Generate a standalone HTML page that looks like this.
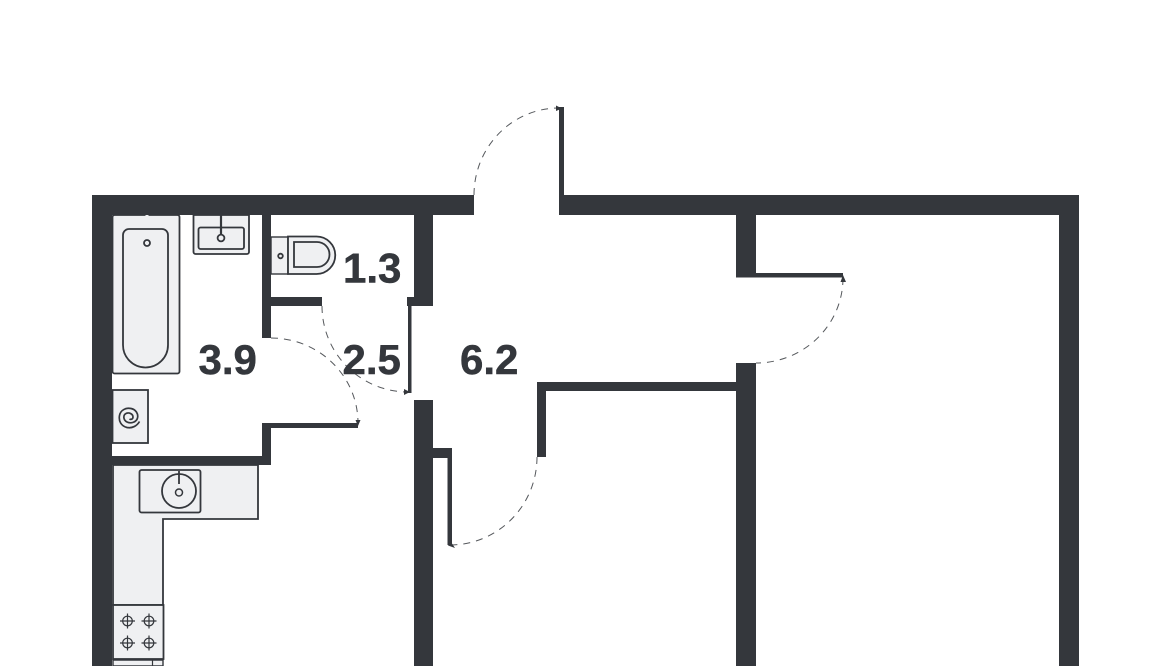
<!DOCTYPE html>
<html><head><meta charset="utf-8"><style>
html,body{margin:0;padding:0;background:#fff;width:1170px;height:666px;overflow:hidden}
svg{display:block}
text{font-family:"Liberation Sans",sans-serif;font-weight:700;font-size:42px;fill:#34373c;stroke:#34373c;stroke-width:.5}
</style></head><body>
<svg width="1170" height="666" viewBox="0 0 1170 666" xmlns="http://www.w3.org/2000/svg">
<rect width="1170" height="666" fill="#fff"/>
<!-- fixtures -->
<g fill="#eff0f2" stroke="#34373c" stroke-width="1.8">
<rect x="112.500" y="215" width="67" height="158.500" rx="2"/>
<path d="M123 235a6 6 0 0 1 6-6h33a6 6 0 0 1 6 6v110a22.500 22.500 0 0 1-45 0z"/>
<circle cx="147" cy="243" r="3"/>
<path d="M193.500 215h55.500v37a2 2 0 0 1-2 2h-51.500a2 2 0 0 1-2-2z"/>
<rect x="198.500" y="227.500" width="45.500" height="21.500" rx="2"/>
<rect x="271" y="237" width="17" height="37" stroke-width="1.400"/>
<path d="M288 236.500h28.500a18.700 18.700 0 0 1 0 37.500h-28.500z"/>
<path d="M294 242h23a12.500 12.500 0 0 1 0 25h-23z"/>
<circle cx="280.500" cy="256" r="2.300"/>
<rect x="112.500" y="390" width="35.500" height="53"/>
<path d="M113 465h145v54h-95v86h-50z"/>
<rect x="139.500" y="470" width="61" height="42.500" rx="2"/>
<circle cx="179" cy="491" r="17"/>
<rect x="113" y="605" width="50.500" height="54"/>
<path d="M113 660h50v6h-50z" stroke-width="1.400"/>
</g>
<g fill="none" stroke="#34373c" stroke-width="1.800">
<path d="M221 215v20" stroke-width="2.200"/>
<circle cx="221" cy="238" r="3.400" fill="#eff0f2"/>
<path d="M179 471v13"/>
<circle cx="179" cy="492.500" r="3.500" fill="#eff0f2" stroke-width="1.500"/>
<path d="M152.500 660v6" stroke-width="1.200"/>
<path d="M139.500 421.500C137 426 132 428.500 127 427.500C121 426 118.500 421 119.500 415.500C120.500 410 126 407.500 131 408.500C136 409.500 138.500 414 137.500 418C136.500 422 131 424 127 422C123 420 123 415 126 413.500C129 412 133 414 133 417C133 419 131 420 129.500 419" stroke-width="1.700"/>
<g stroke-width="1.200">
<circle cx="127.500" cy="621" r="4.800"/><path d="M120 621h15M127.500 613.500v15"/>
<circle cx="149" cy="621" r="4.800"/><path d="M141.500 621h15M149 613.500v15"/>
<circle cx="127.500" cy="643" r="4.800"/><path d="M120 643h15M127.500 635.500v15"/>
<circle cx="149" cy="643" r="4.800"/><path d="M141.500 643h15M149 635.500v15"/>
</g>
</g>
<rect x="145.500" y="212" width="3" height="4" fill="#eff0f2"/>
<!-- walls -->
<path fill="#34373c" d="M92 195H474V215H433V306H414V215H271V297H322V306H271V338H262V215H112V456H262V423H358V428H271V465H112V666H92Z"/>
<path fill="#34373c" d="M407 297H414V306H411.500V393H408V306H407Z"/>
<path fill="#34373c" d="M414 400H433V448H452V545H447.500V458H433V666H414Z"/>
<path fill="#34373c" d="M559 107H564V195H1079V666H1059V215H756V273H843V277.500H736V215H559Z"/>
<path fill="#34373c" d="M736 363H756V666H736V391H546V457H537V382H736Z"/>
<!-- door arcs -->
<g fill="none" stroke="#55585c" stroke-width="1" stroke-dasharray="7 6">
<path d="M474 195A85 87 0 0 1 559 108"/>
<path d="M843 278A87 85 0 0 1 756 363"/>
<path d="M537 457A87 88 0 0 1 450 545"/>
<path d="M322 306A86 86 0 0 0 408 392"/>
<path d="M271 338A87 85 0 0 1 358 423"/>
</g>
<g fill="#34373c">
<path d="M556 105.500L562 108.500L556 111z"/>
<path d="M843 275L846 282L840.500 282z"/>
<path d="M451 542L455 548L448 545.500z"/>
<path d="M404 389L410 392L404 395z"/>
<path d="M358 426L355.500 420L360.500 420z"/>
</g>
<text x="343" y="282.500">1.3</text>
<text x="198.500" y="374">3.9</text>
<text x="342.500" y="374">2.5</text>
<text x="460" y="374">6.2</text>
</svg>
</body></html>
